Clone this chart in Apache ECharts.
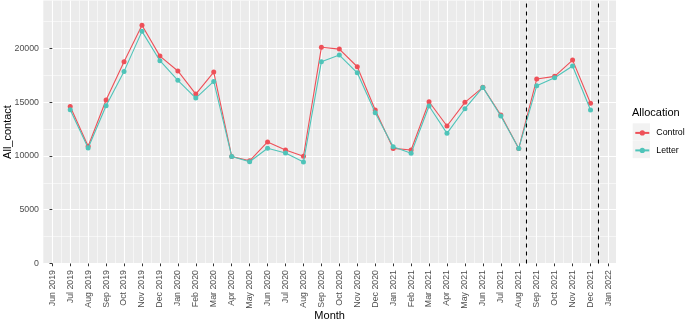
<!DOCTYPE html>
<html>
<head>
<meta charset="utf-8">
<script src="https://cdn.jsdelivr.net/npm/echarts@6/dist/echarts.min.js"></script>
<style>
  html, body { margin: 0; padding: 0; background: #ffffff; }
  #chart { width: 685px; height: 321px; }
</style>
</head>
<body>
<div id="chart"></div>
<script>
// Axis tick labels (month index 0 = Jun 2019)
const monthLabels = ['Jun 2019','Jul 2019','Aug 2019','Sep 2019','Oct 2019','Nov 2019','Dec 2019',
  'Jan 2020','Feb 2020','Mar 2020','Apr 2020','May 2020','Jun 2020','Jul 2020','Aug 2020','Sep 2020',
  'Oct 2020','Nov 2020','Dec 2020','Jan 2021','Feb 2021','Mar 2021','Apr 2021','May 2021','Jun 2021',
  'Jul 2021','Aug 2021','Sep 2021','Oct 2021','Nov 2021','Dec 2021','Jan 2022'];

// Months with observations
const dataMonths = ['Jul 2019','Aug 2019','Sep 2019','Oct 2019','Nov 2019','Dec 2019',
  'Jan 2020','Feb 2020','Mar 2020','Apr 2020','May 2020','Jun 2020','Jul 2020','Aug 2020','Sep 2020',
  'Oct 2020','Nov 2020','Dec 2020','Jan 2021','Feb 2021','Mar 2021','Apr 2021','May 2021','Jun 2021',
  'Jul 2021','Aug 2021','Sep 2021','Oct 2021','Nov 2021','Dec 2021'];

const controlValues = [14600, 10900, 15200, 18750, 22150, 19280, 17900, 15750, 17800, 9950,
  9550, 11300, 10550, 9970, 20100, 19930, 18290, 14270, 10700, 10550,
  15040, 12780, 14980, 16380, 13800, 10700, 17150, 17400, 18910, 14900];

const letterValues = [14300, 10730, 14670, 17860, 21580, 18850, 17030, 15380, 16930, 9950,
  9460, 10710, 10270, 9430, 18760, 19380, 17730, 14020, 10850, 10240,
  14640, 12100, 14390, 16370, 13710, 10700, 16520, 17270, 18360, 14270];

// Dashed reference dates
const vlineDates = ['2021-08-14', '2021-12-14'];

const yTicks = [0, 5000, 10000, 15000, 20000];

// helpers
function monthIndex(label) { return monthLabels.indexOf(label); }
function dateToIndex(s) {
  const [y, m, d] = s.split('-').map(Number);
  const dim = new Date(y, m, 0).getDate();
  return (y - 2019) * 12 + (m - 6) + (d - 1) / dim;
}
const xTickValues = monthLabels.map((_, i) => i);

const FONT = 'Liberation Sans, Arial, sans-serif';
const controlColor = '#EE5058';
const letterColor = '#4FC4B9';

const chart = echarts.init(document.getElementById('chart'), null, { renderer: 'canvas' });

const option = {
  animation: false,
  backgroundColor: '#ffffff',
  textStyle: { fontFamily: FONT },
  grid: {
    left: 43.3, right: 69, top: 0.5, bottom: 57.5,
    outerBoundsMode: 'none',
    containLabel: false,
    show: true, backgroundColor: '#EBEBEB', borderWidth: 0
  },
  title: {
    text: 'Allocation',
    left: 632, top: 107.5,
    textStyle: { fontSize: 11, fontWeight: 'normal', color: '#000000', fontFamily: FONT },
    padding: 0
  },
  legend: {
    orient: 'vertical',
    left: 634.3, top: 128.4,
    itemWidth: 14, itemHeight: 6.5, itemGap: 8.5,
    padding: 0,
    z: 10,
    textStyle: { fontSize: 8.8, color: '#000000', fontFamily: FONT, lineHeight: 6.5, padding: [0, 0, 0, 2] },
    data: ['Control', 'Letter']
  },
  graphic: [
    { type: 'rect', z: 1, shape: { x: 632.7, y: 123.3, width: 17.3, height: 17.3 }, style: { fill: '#F2F2F2' } },
    { type: 'rect', z: 1, shape: { x: 632.7, y: 140.9, width: 17.3, height: 17.3 }, style: { fill: '#F2F2F2' } }
  ],
  xAxis: {
    type: 'value',
    min: -0.5, max: 31.42,
    minInterval: 1, maxInterval: 1,
    name: 'Month', nameLocation: 'middle', nameGap: 47, nameMoveOverlap: false,
    nameTextStyle: { fontSize: 11, color: '#000000', fontFamily: FONT },
    axisLine: { show: false },
    axisTick: { show: true, length: 2.75, customValues: xTickValues, lineStyle: { color: '#333333', width: 1 } },
    axisLabel: {
      show: true, rotate: 90, margin: 6.5, fontSize: 8.8, color: '#4D4D4D', fontFamily: FONT,
      customValues: xTickValues,
      showMinLabel: true, showMaxLabel: true,
      formatter: function (v) {
        return Number.isInteger(v) && monthLabels[v] ? monthLabels[v] : '';
      }
    },
    splitLine: { show: true, lineStyle: { color: '#FFFFFF', width: 1.1 } },
    minorTick: { show: false, splitNumber: 2 },
    minorSplitLine: { show: true, lineStyle: { color: '#FFFFFF', width: 0.55 } }
  },
  yAxis: {
    type: 'value',
    min: 0, max: 24450,
    minInterval: 5000, maxInterval: 5000,
    name: 'All_contact', nameLocation: 'middle', nameGap: 30, nameMoveOverlap: false,
    nameTextStyle: { fontSize: 11, color: '#000000', fontFamily: FONT },
    axisLine: { show: false },
    axisTick: { show: true, length: 2.75, customValues: yTicks, lineStyle: { color: '#333333', width: 1 } },
    axisLabel: {
      show: true, margin: 4.3, fontSize: 8.8, color: '#4D4D4D', fontFamily: FONT,
      customValues: yTicks,
      formatter: function (v) { return (v % 5000 === 0) ? String(v) : ''; }
    },
    splitLine: { show: true, lineStyle: { color: '#FFFFFF', width: 1.1 } },
    minorTick: { show: false, splitNumber: 2 },
    minorSplitLine: { show: true, lineStyle: { color: '#FFFFFF', width: 0.55 } }
  },
  series: [
    {
      name: 'Control', type: 'line',
      data: dataMonths.map((m, i) => [monthIndex(m), controlValues[i]]),
      symbol: 'circle', symbolSize: 5, showSymbol: true,
      color: controlColor,
      itemStyle: { color: controlColor },
      lineStyle: { color: controlColor, width: 1.1 },
      z: 3,
      markLine: {
        silent: true, symbol: 'none',
        label: { show: false },
        lineStyle: { color: '#000000', width: 1.1, type: [4, 4] },
        data: vlineDates.map(d => ({ xAxis: dateToIndex(d) }))
      }
    },
    {
      name: 'Letter', type: 'line',
      data: dataMonths.map((m, i) => [monthIndex(m), letterValues[i]]),
      symbol: 'circle', symbolSize: 5, showSymbol: true,
      color: letterColor,
      itemStyle: { color: letterColor },
      lineStyle: { color: letterColor, width: 1.1 },
      z: 4
    }
  ]
};

chart.setOption(option);
</script>
</body>
</html>
